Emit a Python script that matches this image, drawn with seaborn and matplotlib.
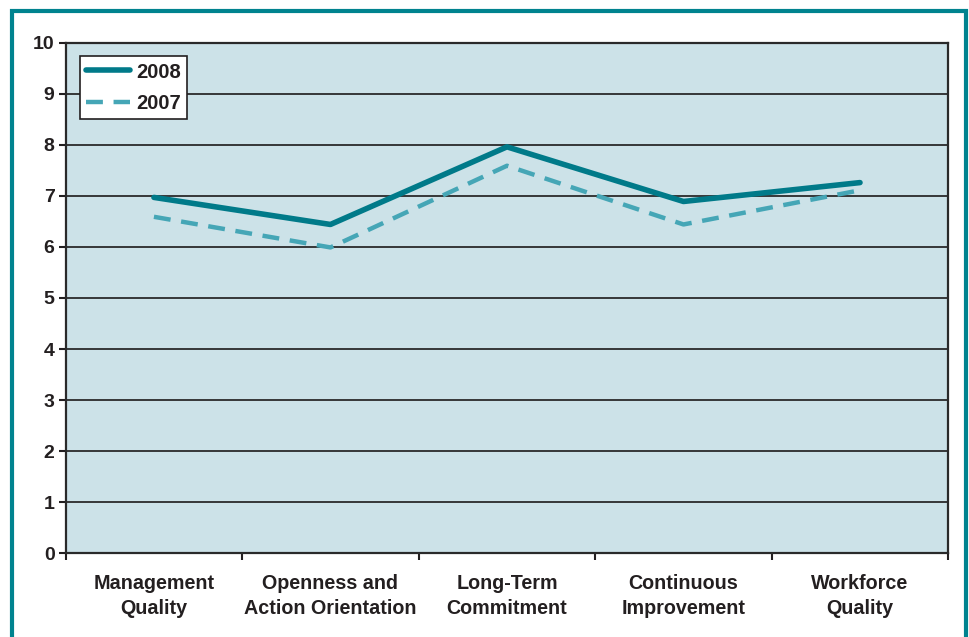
import matplotlib
matplotlib.use("Agg")
import matplotlib.pyplot as plt
import matplotlib.patches as mpatches
import seaborn as sns
import pandas as pd
import numpy as np

categories = ["Management\nQuality", "Openness and\nAction Orientation", "Long-Term\nCommitment",
              "Continuous\nImprovement", "Workforce\nQuality"]
values_2008 = [6.97, 6.44, 7.96, 6.89, 7.26]
values_2007 = [6.59, 5.99, 7.59, 6.44, 7.11]
series_names = ["2008", "2007"]
y_ticks = [0, 1, 2, 3, 4, 5, 6, 7, 8, 9, 10]

sns.set_theme(style="white")
plt.rcParams['font.family'] = ['Liberation Sans', 'DejaVu Sans']
plt.rcParams['font.weight'] = 'bold'

pos = list(range(len(categories)))
df = pd.DataFrame({
    "pos": pos * 2,
    "value": values_2008 + values_2007,
    "Year": [series_names[0]] * len(pos) + [series_names[1]] * len(pos),
})

fig = plt.figure(figsize=(9.7, 6.37), dpi=100)
ax = fig.add_axes([0.0677, 0.1314, 0.9099, 0.8016])
ax.set_facecolor("#CCE2E8")

# outer teal frame
frame = mpatches.Rectangle((12.5 / 970, -0.05), (966 - 12.5) / 970, 1 - 10.5 / 637 + 0.05,
                           transform=fig.transFigure, fill=False, edgecolor="#00838F",
                           linewidth=3, zorder=0)
fig.patches.append(frame)

for y in y_ticks:
    ax.axhline(y, color="#2a2a2a", linewidth=1.3, zorder=1)

palette = {"2008": "#007A89", "2007": "#45A6B6"}
sns.lineplot(data=df, x="pos", y="value", hue="Year", style="Year",
             hue_order=series_names, style_order=series_names,
             palette=palette, dashes={"2008": "", "2007": (3.8, 2.4)},
             ax=ax, zorder=3)
lines = [l for l in ax.get_lines() if len(l.get_xdata()) == len(pos)]
if len(lines) >= 2:
    lines[0].set_linewidth(4.0)
    lines[0].set_solid_capstyle("round")
    lines[1].set_linewidth(3.2)

ax.set_xlim(-0.5, len(categories) - 0.5)
ax.set_ylim(0, 10)
ax.set_yticks(y_ticks)
ax.set_yticklabels([str(t) for t in y_ticks], fontsize=14, fontweight="bold", color="#231f20")
ax.set_xticks(np.arange(-0.5, len(categories)), labels=[""] * (len(categories) + 1))
ax.set_xticks(pos, minor=True)
ax.set_xticklabels(categories, minor=True, fontsize=14.2, fontweight="bold", color="#231f20",
                   linespacing=1.4)
ax.tick_params(axis="x", which="major", direction="out", length=5, width=1.5, color="#231f20", bottom=True)
ax.tick_params(axis="x", which="minor", length=0, pad=15)
ax.tick_params(axis="y", direction="out", length=5, width=1.5, color="#231f20", left=True, pad=3)
ax.set_xlabel("")
ax.set_ylabel("")
for s in ax.spines.values():
    s.set_visible(True)
    s.set_color("#2a2a2a")
    s.set_linewidth(1.6)

handles, labels = ax.get_legend_handles_labels()
for h in handles:
    if h.get_label() == "2008":
        h.set_linewidth(4.0)
        h.set_solid_capstyle("round")
    else:
        h.set_linewidth(3.2)
leg = ax.legend(handles, labels, loc="upper left", bbox_to_anchor=(0.016, 0.973),
                frameon=True, fancybox=False, framealpha=1, edgecolor="#231f20",
                prop={"size": 14.5, "weight": "bold"}, handlelength=2.2,
                borderpad=0.3, labelspacing=0.6, handletextpad=0.3, borderaxespad=0)
leg.get_frame().set_linewidth(1.2)
for t in leg.get_texts():
    t.set_color("#231f20")

fig.savefig("out.png", dpi=100, facecolor="white")
